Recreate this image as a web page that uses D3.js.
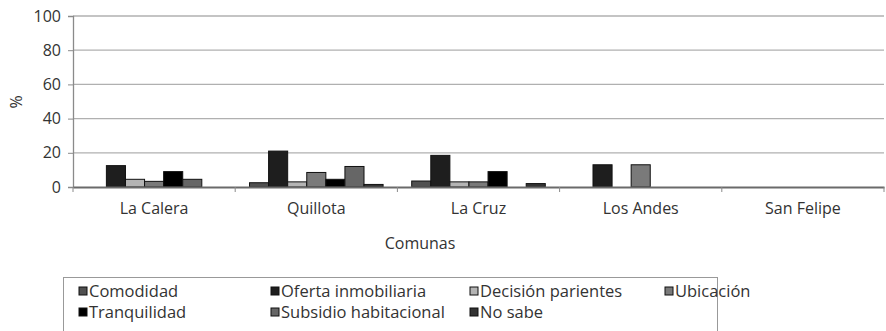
<!DOCTYPE html>
<html>
<head>
<meta charset="utf-8">
<script src="https://cdn.jsdelivr.net/npm/d3@7"></script>
<style>
  html, body { margin: 0; padding: 0; background: #fff; }
  svg text { font-family: "Open Sans", Lato, sans-serif; fill: #333; }
</style>
</head>
<body>
<svg id="chart" width="886" height="331"></svg>
<script>
// Comunas along the x axis
const comunas = ["La Calera", "Quillota", "La Cruz", "Los Andes", "San Felipe"];

// Motivos (one series per reason), values in % per comuna
const series = ["Comodidad", "Oferta inmobiliaria", "Decisión parientes", "Ubicación",
                "Tranquilidad", "Subsidio habitacional", "No sabe"];
const comodidad      = [0, 2.5, 3.5, 0, 0];
const oferta         = [12.5, 21, 18.5, 13, 0];
const decision       = [4.5, 3, 3, 0, 0];
const ubicacion      = [3.3, 8.5, 3, 13, 0];
const tranquilidad   = [9, 4.5, 9, 0, 0];
const subsidio       = [4.5, 12, 0, 0, 0];
const noSabe         = [0, 1.5, 2, 0, 0];
const values = [comodidad, oferta, decision, ubicacion, tranquilidad, subsidio, noSabe];

const yTicks = [0, 20, 40, 60, 80, 100];
const colors = ["#505050", "#1e1e1e", "#b4b4b4", "#7a7a7a", "#000000", "#666666", "#333333"];

const svg = d3.select("#chart");
const margin = { left: 73, right: 884, top: 16, bottom: 187 };

const x = d3.scaleBand().domain(comunas).range([margin.left, margin.right]).paddingInner(0).paddingOuter(0);
const xs = d3.scaleBand().domain(series)
  .range([0, x.bandwidth()]).paddingOuter(0.75).paddingInner(0);
const y = d3.scaleLinear().domain([0, 100]).range([margin.bottom, margin.top]);

// Horizontal gridlines
svg.append("g").selectAll("line").data(yTicks.filter(d => d > 0)).join("line")
  .attr("x1", margin.left).attr("x2", margin.right)
  .attr("y1", d => y(d)).attr("y2", d => y(d))
  .attr("stroke", "#b0b0b0").attr("stroke-width", 1.3);

// Y axis
const yAxis = svg.append("g").attr("transform", `translate(${margin.left},0)`)
  .call(d3.axisLeft(y).tickValues(yTicks).tickSize(5).tickPadding(7));
yAxis.select(".domain").attr("stroke", "#8a8a8a").attr("stroke-width", 1.3);
yAxis.selectAll(".tick line").attr("stroke", "#8a8a8a");
yAxis.selectAll("text").style("font-size", "16px").attr("fill", "#333");

// Bars
const rows = [];
comunas.forEach((c, i) => series.forEach((s, j) => rows.push({ c, s, j, v: values[j][i] })));
svg.append("g").selectAll("rect").data(rows.filter(d => d.v > 0)).join("rect")
  .attr("x", d => x(d.c) + xs(d.s))
  .attr("width", xs.bandwidth())
  .attr("y", d => y(d.v))
  .attr("height", d => y(0) - y(d.v))
  .attr("fill", d => colors[d.j])
  .attr("stroke", "#111").attr("stroke-width", 1);

// X axis
const xAxis = svg.append("g").attr("transform", `translate(0,${margin.bottom})`)
  .call(d3.axisBottom(x).tickSize(0).tickPadding(16));
xAxis.select(".domain").attr("stroke", "#6a6a6a").attr("stroke-width", 2);
xAxis.selectAll("text").style("font-size", "16px").attr("fill", "#333");
// category separators
svg.append("g").selectAll("line")
  .data(comunas.map(c => x(c)).concat([margin.right])).join("line")
  .attr("x1", d => d).attr("x2", d => d)
  .attr("y1", margin.bottom).attr("y2", margin.bottom + 5)
  .attr("stroke", "#8a8a8a");

// Axis titles
svg.append("text").attr("x", 420).attr("y", 249)
  .attr("text-anchor", "middle").style("font-size", "16px").text("Comunas");
svg.append("text").attr("transform", "translate(22,102) rotate(-90)")
  .attr("text-anchor", "middle").style("font-size", "16px").text("%");

// Legend
const legend = svg.append("g");
legend.append("rect").attr("x", 63.5).attr("y", 277.5).attr("width", 654).attr("height", 60)
  .attr("fill", "none").attr("stroke", "#999").attr("stroke-width", 1);
const colX = [79, 271, 470, 665];
series.forEach((s, j) => {
  const col = j % 4, row = Math.floor(j / 4);
  const g = legend.append("g").attr("transform", `translate(${colX[col]},${292 + row * 21})`);
  g.append("rect").attr("x", 0).attr("y", -5).attr("width", 8).attr("height", 8)
    .attr("fill", colors[j]).attr("stroke", "#111").attr("stroke-width", 1);
  g.append("text").attr("x", 10).attr("y", 5).style("font-size", "16.5px").text(s);
});
</script>
</body>
</html>
